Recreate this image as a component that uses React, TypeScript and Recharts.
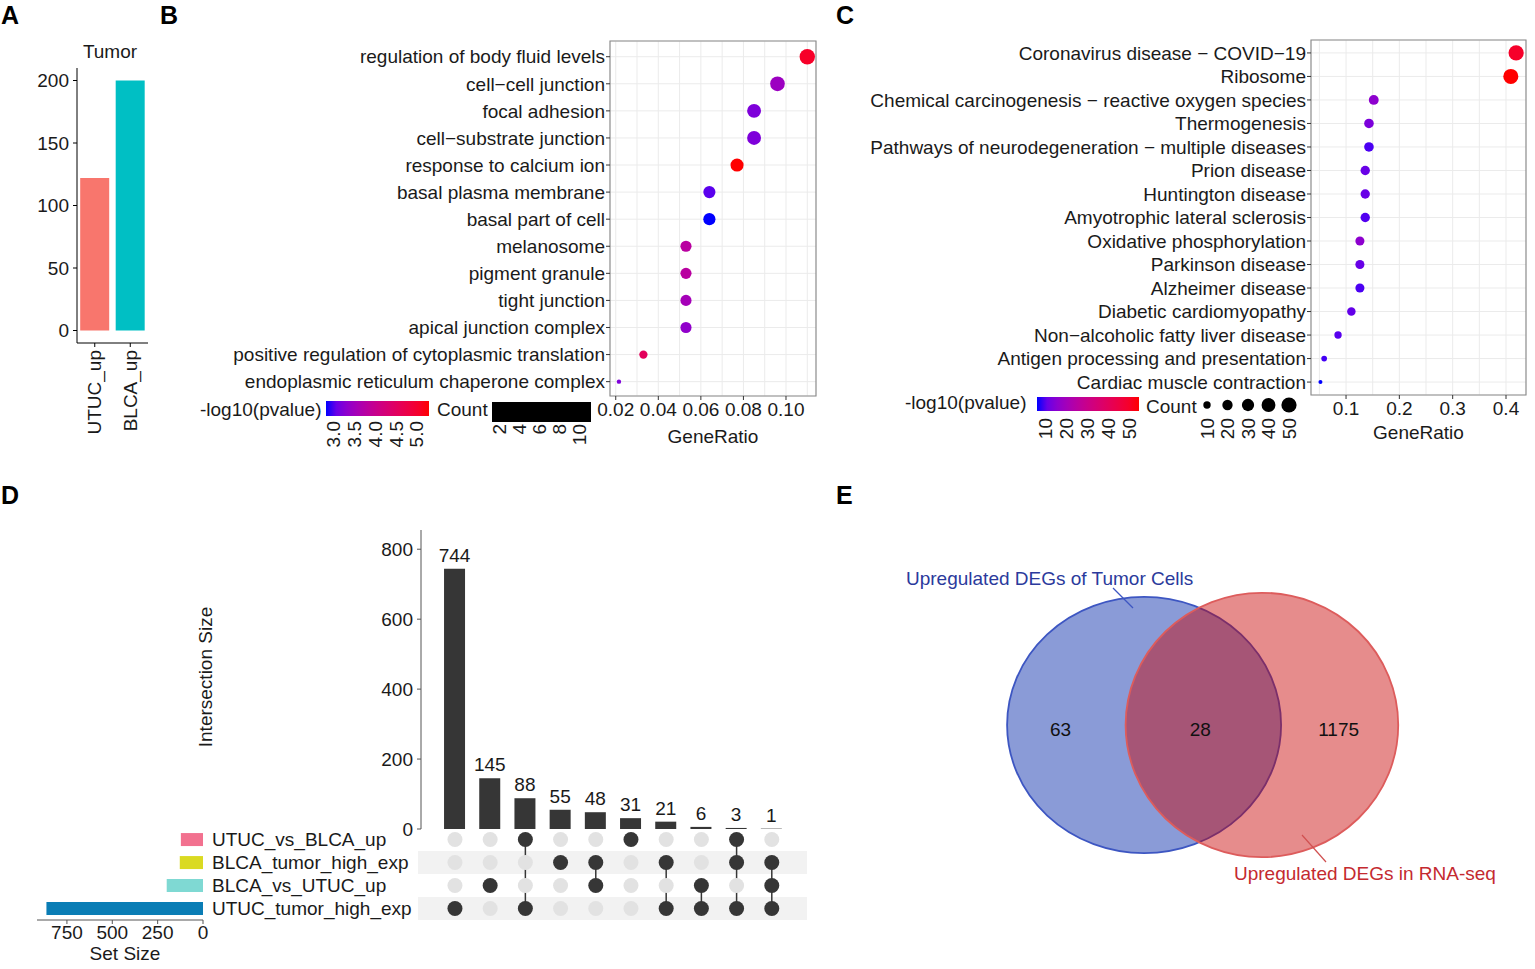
import React from 'react'
import {
  BarChart, Bar, XAxis, YAxis, CartesianGrid, ScatterChart, Scatter,
  Cell, LabelList, ReferenceArea, ReferenceLine,
} from 'recharts'

const FONT = '"Liberation Sans", Arial, sans-serif'
const TXT = '#1a1a1a'

// ---- A: tumor DEG counts
const tumorGroups = ['UTUC_up', 'BLCA_up']
const tumorCounts = [122, 200]
const tumorColors = ['#F8766D', '#00BFC4']

// ---- B: GO enrichment
const goTerms = [
  'regulation of body fluid levels',
  'cell\u2212cell junction',
  'focal adhesion',
  'cell\u2212substrate junction',
  'response to calcium ion',
  'basal plasma membrane',
  'basal part of cell',
  'melanosome',
  'pigment granule',
  'tight junction',
  'apical junction complex',
  'positive regulation of cytoplasmic translation',
  'endoplasmic reticulum chaperone complex',
]
const goRatio = [0.110, 0.096, 0.085, 0.085, 0.077, 0.064, 0.064, 0.053, 0.053, 0.053, 0.053, 0.033, 0.0215]
const goCount = [10, 9, 8, 8, 7, 6, 6, 5, 5, 5, 5, 3, 2]
const goLogP = [5.05, 3.45, 3.2, 3.2, 5.29, 3.0, 2.82, 3.8, 3.8, 3.55, 3.35, 4.55, 3.2]
const goPTicks = [3.0, 3.5, 4.0, 4.5, 5.0]
const goCountTicks = [2, 4, 6, 8, 10]

// ---- C: KEGG enrichment
const keggTerms = [
  'Coronavirus disease \u2212 COVID\u221219',
  'Ribosome',
  'Chemical carcinogenesis \u2212 reactive oxygen species',
  'Thermogenesis',
  'Pathways of neurodegeneration \u2212 multiple diseases',
  'Prion disease',
  'Huntington disease',
  'Amyotrophic lateral sclerosis',
  'Oxidative phosphorylation',
  'Parkinson disease',
  'Alzheimer disease',
  'Diabetic cardiomyopathy',
  'Non\u2212alcoholic fatty liver disease',
  'Antigen processing and presentation',
  'Cardiac muscle contraction',
]
const keggRatio = [0.419, 0.409, 0.152, 0.143, 0.143, 0.136, 0.136, 0.136, 0.126, 0.126, 0.126, 0.110, 0.085, 0.059, 0.052]
const keggCount = [50, 49, 18, 17, 17, 16, 16, 16, 15, 15, 15, 13, 10, 7, 6]
const keggLogP = [49.6, 54.4, 15.8, 13.3, 8.5, 10.9, 10.9, 9, 15.8, 10.9, 8.5, 10.4, 9.5, 8, 6.1]
const keggPTicks = [10, 20, 30, 40, 50]
const keggCountTicks = [10, 20, 30, 40, 50]

// ---- D: upset
const setNames = ['UTUC_vs_BLCA_up', 'BLCA_tumor_high_exp', 'BLCA_vs_UTUC_up', 'UTUC_tumor_high_exp']
const setSizes = [122, 128, 200, 863]
const setColors = ['#F2718F', '#DADA22', '#7FD9D3', '#0A7DB5']
const interSizes = [744, 145, 88, 55, 48, 31, 21, 6, 3, 1]
const interMembers = [[3], [2], [0, 3], [1], [1, 2], [0], [1, 3], [2, 3], [0, 1, 3], [1, 2, 3]]

// ---- E: venn
const vennLabels = ['Upregulated DEGs of Tumor Cells', 'Upregulated DEGs in RNA-seq']
const vennCounts = [63, 28, 1175]

// colour scale: ggplot-like blue -> red gradient in Lab space
const lin = (c: number) => { c /= 255; return c <= 0.04045 ? c / 12.92 : Math.pow((c + 0.055) / 1.055, 2.4) }
const gam = (c: number) => {
  const v = c <= 0.0031308 ? 12.92 * c : 1.055 * Math.pow(Math.max(c, 0), 1 / 2.4) - 0.055
  return Math.round(Math.max(0, Math.min(1, v)) * 255)
}
const fLab = (t: number) => (t > 0.008856 ? Math.cbrt(t) : 7.787 * t + 16 / 116)
const fInv = (t: number) => (t ** 3 > 0.008856 ? t ** 3 : (t - 16 / 116) / 7.787)
function rgbToLab(r: number, g: number, b: number) {
  const R = lin(r), G = lin(g), B = lin(b)
  const X = (0.4124 * R + 0.3576 * G + 0.1805 * B) / 0.95047
  const Y = 0.2126 * R + 0.7152 * G + 0.0722 * B
  const Z = (0.0193 * R + 0.1192 * G + 0.9505 * B) / 1.08883
  const fx = fLab(X), fy = fLab(Y), fz = fLab(Z)
  return [116 * fy - 16, 500 * (fx - fy), 200 * (fy - fz)]
}
function labToHex(L: number, a: number, b: number) {
  const fy = (L + 16) / 116, fx = fy + a / 500, fz = fy - b / 200
  const X = fInv(fx) * 0.95047, Y = fInv(fy), Z = fInv(fz) * 1.08883
  const R = 3.2406 * X - 1.5372 * Y - 0.4986 * Z
  const G = -0.9689 * X + 1.8758 * Y + 0.0415 * Z
  const B = 0.0557 * X - 0.204 * Y + 1.057 * Z
  return '#' + [R, G, B].map((v) => gam(v).toString(16).padStart(2, '0')).join('')
}
const LOW = rgbToLab(0, 0, 255)
const HIGH = rgbToLab(255, 0, 0)
function pColor(v: number, lo: number, hi: number) {
  const t = Math.max(0, Math.min(1, (v - lo) / (hi - lo)))
  return labToHex(LOW[0] + (HIGH[0] - LOW[0]) * t, LOW[1] + (HIGH[1] - LOW[1]) * t, LOW[2] + (HIGH[2] - LOW[2]) * t)
}

// ggplot scale_size: radius grows with sqrt of the rescaled value
const sizeRadius = (c: number, dom: number[], rr: number[]) =>
  rr[0] + (rr[1] - rr[0]) * Math.sqrt(Math.max(0, Math.min(1, (c - dom[0]) / (dom[1] - dom[0]))))

const RotTick = (props: any) => {
  const { x, y, payload } = props
  return (
    <text x={x} y={y + 1} transform={`rotate(-90 ${x} ${y + 1})`} textAnchor="end" dominantBaseline="central" fontSize={19} fill={TXT}>
      {payload.value}
    </text>
  )
}

type DotProps = {
  terms: string[]; ratio: number[]; count: number[]; logp: number[]
  pRange: [number, number]; countDomain: number[]; radius: number[]
  xDomain: [number, number]; xTicks: number[]; minor: number[]; decimals: number
  yPad: [number, number]; labelOffset: number
  width: number; height: number; top: number; yWidth: number; right: number
}

function DotPlot(p: DotProps) {
  const n = p.terms.length
  const data = p.terms.map((t, i) => ({ row: i + 1, term: t, ratio: p.ratio[i], count: p.count[i], logp: p.logp[i] }))
  const y0 = 1 - p.yPad[0]
  const y1 = n + p.yPad[1]
  return (
    <ScatterChart width={p.width} height={p.height} margin={{ top: p.top, right: p.right, bottom: 0, left: 0 }}>
      <CartesianGrid stroke="#ebebeb" verticalValues={[...p.xTicks, ...p.minor]} />
      <XAxis
        type="number" dataKey="ratio" domain={p.xDomain} ticks={p.xTicks} allowDataOverflow interval={0}
        height={55} axisLine={false} tickLine={{ stroke: '#333' }} tickSize={4} tickMargin={3}
        tick={{ fontSize: 19, fill: TXT }} tickFormatter={(v: number) => v.toFixed(p.decimals)}
        label={{ value: 'GeneRatio', position: 'insideBottom', offset: p.labelOffset, fontSize: 19, fill: TXT }}
      />
      <YAxis
        type="number" dataKey="row" domain={[y0, y1]} ticks={data.map((d) => d.row)} reversed allowDataOverflow
        interval={0} width={p.yWidth} axisLine={false} tickLine={{ stroke: '#333' }} tickSize={4} tickMargin={1}
        tick={{ fontSize: 19, fill: TXT }} tickFormatter={(v: number) => p.terms[v - 1]}
      />
      <ReferenceArea x1={p.xDomain[0]} x2={p.xDomain[1]} y1={y0} y2={y1} fill="none" fillOpacity={0} stroke="#8c8c8c" strokeWidth={1.2} />
      <Scatter
        data={data} isAnimationActive={false}
        shape={(pp: any) => (
          <circle cx={pp.cx} cy={pp.cy} r={sizeRadius(pp.payload.count, p.countDomain, p.radius)} fill={pColor(pp.payload.logp, p.pRange[0], p.pRange[1])} />
        )}
      />
    </ScatterChart>
  )
}

function ColorBar({ id, x, y, w, h, range, ticks, labelTop, digits }: any) {
  const stops = [0, 0.1, 0.2, 0.3, 0.4, 0.5, 0.6, 0.7, 0.8, 0.9, 1]
  return (
    <g>
      <defs>
        <linearGradient id={id} x1="0" x2="1" y1="0" y2="0">
          {stops.map((s) => (
            <stop key={s} offset={s} stopColor={pColor(range[0] + s * (range[1] - range[0]), range[0], range[1])} />
          ))}
        </linearGradient>
      </defs>
      <rect x={x} y={y} width={w} height={h} fill={`url(#${id})`} />
      {ticks.map((t: number) => {
        const tx = x + ((t - range[0]) / (range[1] - range[0])) * w
        return (
          <text key={t} x={tx} y={labelTop} transform={`rotate(-90 ${tx} ${labelTop})`} textAnchor="end" dominantBaseline="central" fontSize={19} fill={TXT}>
            {t.toFixed(digits)}
          </text>
        )
      })}
    </g>
  )
}

const VENN_PX = 137
const vennShapes = [
  { x: -0.43, y: 0, rx: 1.0, ry: 0.935, fill: '#1537af', op: 0.5, stroke: '#3d56c2' },
  { x: 0.43, y: 0, rx: 0.995, ry: 0.965, fill: '#c80000', op: 0.45, stroke: '#dd5c5c' },
]
const vennTextPos = [-1.04, -0.02, 0.99]

const EllipseShape = (props: any) => {
  const { cx, cy, payload } = props
  return (
    <ellipse cx={cx} cy={cy} rx={payload.rx * VENN_PX} ry={payload.ry * VENN_PX} fill={payload.fill} fillOpacity={payload.op} stroke={payload.stroke} strokeWidth={1.8} />
  )
}
const CountText = (props: any) => {
  const { cx, cy, payload } = props
  return (
    <text x={cx} y={cy} textAnchor="middle" dominantBaseline="central" fontSize={19} fill="#111">
      {payload.value}
    </text>
  )
}

export default function App() {
  const aData = tumorGroups.map((g, i) => ({ group: g, count: tumorCounts[i] }))
  const setData = setNames.map((s, i) => ({ name: s, size: setSizes[i] }))
  const interData = interSizes.map((v, i) => ({ id: String(i), size: v }))
  const matrix = interMembers.flatMap((m, i) => setNames.map((_, r) => ({ x: i, y: r, on: m.includes(r) })))
  const vennCountData = vennCounts.map((v, i) => ({ x: vennTextPos[i], y: 0.036, value: v }))

  const bP: [number, number] = [2.82, 5.29]
  const cP: [number, number] = [6.1, 54.4]
  const cCountDom = [6, 50]
  const cRadius = [2, 7.6]

  return (
    <div style={{ position: 'absolute', left: 0, top: 0, width: 1535, height: 969, background: '#fff', fontFamily: FONT }}>
      {/* A */}
      <div style={{ position: 'absolute', left: 0, top: 0 }}>
        <BarChart width={160} height={445} data={aData} margin={{ top: 68, right: 12, bottom: 0, left: 0 }} barCategoryGap="9%">
          <XAxis dataKey="group" height={102} interval={0} tickSize={4} tickMargin={2} axisLine={{ stroke: '#000' }} tickLine={{ stroke: '#000' }} tick={<RotTick />} />
          <YAxis type="number" domain={[-10, 210]} ticks={[0, 50, 100, 150, 200]} width={77} tickSize={4} tickMargin={4} interval={0}
            axisLine={{ stroke: '#000' }} tickLine={{ stroke: '#000' }} tick={{ fontSize: 19, fill: TXT }} />
          <Bar dataKey="count" isAnimationActive={false}>
            {aData.map((d, i) => (
              <Cell key={d.group} fill={tumorColors[i]} />
            ))}
          </Bar>
        </BarChart>
      </div>

      {/* B */}
      <div style={{ position: 'absolute', left: 200, top: 0 }}>
        <DotPlot terms={goTerms} ratio={goRatio} count={goCount} logp={goLogP} pRange={bP} countDomain={[2, 10]} radius={[2.2, 7.7]}
          xDomain={[0.0173, 0.1141]} xTicks={[0.02, 0.04, 0.06, 0.08, 0.1]} minor={[0.03, 0.05, 0.07, 0.09, 0.11]} decimals={2}
          yPad={[0.58, 0.53]} labelOffset={8}
          width={620} height={451} top={41} yWidth={410} right={4} />
      </div>

      {/* C */}
      <div style={{ position: 'absolute', left: 860, top: 0 }}>
        <DotPlot terms={keggTerms} ratio={keggRatio} count={keggCount} logp={keggLogP} pRange={cP} countDomain={cCountDom} radius={cRadius}
          xDomain={[0.0343, 0.4375]} xTicks={[0.1, 0.2, 0.3, 0.4]} minor={[0.05, 0.15, 0.25, 0.35]} decimals={1}
          yPad={[0.55, 0.55]} labelOffset={11}
          width={675} height={450} top={40} yWidth={451} right={9} />
      </div>

      {/* D: intersection sizes */}
      <div style={{ position: 'absolute', left: 170, top: 500 }}>
        <BarChart width={637} height={345} data={interData} margin={{ top: 30, right: 0, bottom: 16, left: 0 }} barCategoryGap="20%">
          <XAxis dataKey="id" hide padding={{ left: 16, right: 18 }} />
          <YAxis type="number" domain={[0, 855]} ticks={[0, 200, 400, 600, 800]} width={251} interval={0} tickSize={4} tickMargin={4}
            axisLine={{ stroke: '#555' }} tickLine={{ stroke: '#555' }} tick={{ fontSize: 19, fill: TXT }} allowDataOverflow />
          <Bar dataKey="size" fill="#363636" isAnimationActive={false}>
            <LabelList dataKey="size" position="top" offset={7} fontSize={19} fill={TXT} />
          </Bar>
        </BarChart>
      </div>

      {/* D: matrix */}
      <div style={{ position: 'absolute', left: 418, top: 828 }}>
        <ScatterChart width={389} height={92} margin={{ top: 0, right: 0, bottom: 0, left: 0 }}>
          <XAxis type="number" dataKey="x" domain={[-1.05, 10]} hide allowDataOverflow />
          <YAxis type="number" dataKey="y" domain={[-0.5, 3.5]} hide reversed allowDataOverflow />
          <ReferenceArea y1={0.5} y2={1.5} fill="#f2f2f2" fillOpacity={1} stroke="none" />
          <ReferenceArea y1={2.5} y2={3.5} fill="#f2f2f2" fillOpacity={1} stroke="none" />
          <Scatter data={matrix.filter((d) => !d.on)} isAnimationActive={false}
            shape={(pp: any) => <circle cx={pp.cx} cy={pp.cy} r={7.5} fill="#e2e2e2" />} />
          {interMembers.map((m, col) =>
            m.length > 1 ? (
              <ReferenceLine key={col} segment={[{ x: col, y: Math.min(...m) }, { x: col, y: Math.max(...m) }]} stroke="#363636" strokeWidth={1.5} />
            ) : null,
          )}
          <Scatter data={matrix.filter((d) => d.on)} isAnimationActive={false}
            shape={(pp: any) => <circle cx={pp.cx} cy={pp.cy} r={7.5} fill="#363636" />} />
        </ScatterChart>
      </div>

      {/* D: set sizes */}
      <div style={{ position: 'absolute', left: 0, top: 828 }}>
        <BarChart layout="vertical" width={440} height={128} data={setData} margin={{ top: 0, right: 0, bottom: 0, left: 37 }} barCategoryGap="22%">
          <XAxis type="number" domain={[0, 915]} reversed ticks={[0, 250, 500, 750]} interval={0} height={36} tickSize={4} tickMargin={2}
            axisLine={{ stroke: '#555' }} tickLine={{ stroke: '#555' }} tick={{ fontSize: 19, fill: TXT }} allowDataOverflow />
          <YAxis type="category" dataKey="name" orientation="right" width={237} tickSize={0} tickMargin={9} axisLine={false} interval={0}
            tick={{ fontSize: 19, fill: TXT, textAnchor: 'start' }} />
          <Bar dataKey="size" isAnimationActive={false}>
            {setData.map((d, i) => (
              <Cell key={d.name} fill={setColors[i]} />
            ))}
          </Bar>
        </BarChart>
      </div>

      {/* E: venn */}
      <div style={{ position: 'absolute', left: 880, top: 540 }}>
        <ScatterChart width={640} height={380} margin={{ top: 0, right: 0, bottom: 0, left: 0 }}>
          <XAxis type="number" dataKey="x" domain={[-323 / VENN_PX, 317 / VENN_PX]} hide allowDataOverflow />
          <YAxis type="number" dataKey="y" domain={[-185 / VENN_PX, 195 / VENN_PX]} hide reversed allowDataOverflow />
          <Scatter data={vennShapes} shape={EllipseShape} isAnimationActive={false} />
          <Scatter data={vennCountData} shape={CountText} isAnimationActive={false} />
        </ScatterChart>
      </div>

      {/* annotations and legends */}
      <svg width={1535} height={969} style={{ position: 'absolute', left: 0, top: 0, pointerEvents: 'none', fontFamily: FONT }}>
        <g fontSize={25} fontWeight="bold" fill="#000">
          <text x={1} y={24}>A</text>
          <text x={160} y={24}>B</text>
          <text x={836} y={24}>C</text>
          <text x={1} y={504}>D</text>
          <text x={836} y={504}>E</text>
        </g>
        <text x={110} y={51} textAnchor="middle" dominantBaseline="central" fontSize={19} fill={TXT}>Tumor</text>

        {/* B legend */}
        <text x={200} y={409} dominantBaseline="central" fontSize={19} fill={TXT}>-log10(pvalue)</text>
        <ColorBar id="gradB" x={326} y={401} w={103} h={15} range={bP} ticks={goPTicks} labelTop={421} digits={1} />
        <text x={437} y={409} dominantBaseline="central" fontSize={19} fill={TXT}>Count</text>
        <rect x={492} y={402} width={99} height={20} fill="#000" />
        {goCountTicks.map((c) => {
          const tx = 492 + ((c - 1.3) / 9.8) * 99
          return (
            <text key={c} x={tx} y={424} transform={`rotate(-90 ${tx} 424)`} textAnchor="end" dominantBaseline="central" fontSize={19} fill={TXT}>{c}</text>
          )
        })}

        {/* C legend */}
        <text x={905} y={402} dominantBaseline="central" fontSize={19} fill={TXT}>-log10(pvalue)</text>
        <ColorBar id="gradC" x={1037} y={397} w={102} h={14} range={cP} ticks={keggPTicks} labelTop={418} digits={0} />
        <text x={1146} y={406} dominantBaseline="central" fontSize={19} fill={TXT}>Count</text>
        {keggCountTicks.map((c, i) => {
          const tx = 1207 + i * 20.5
          return (
            <g key={c}>
              <circle cx={tx} cy={405} r={sizeRadius(c, cCountDom, cRadius)} fill="#000" />
              <text x={tx} y={418} transform={`rotate(-90 ${tx} 418)`} textAnchor="end" dominantBaseline="central" fontSize={19} fill={TXT}>{c}</text>
            </g>
          )
        })}

        {/* D labels */}
        <text x={205} y={677} transform="rotate(-90 205 677)" textAnchor="middle" dominantBaseline="central" fontSize={19} fill={TXT}>Intersection Size</text>
        <text x={125} y={953} textAnchor="middle" dominantBaseline="central" fontSize={19} fill={TXT}>Set Size</text>

        {/* E labels */}
        <text x={906} y={578} dominantBaseline="central" fontSize={19} fill="#2b3a9c">{vennLabels[0]}</text>
        <line x1={1113} y1={588} x2={1133} y2={608} stroke="#3d56c2" strokeWidth={1.2} />
        <text x={1234} y={873} dominantBaseline="central" fontSize={19} fill="#c42a30">{vennLabels[1]}</text>
        <line x1={1302} y1={835} x2={1326} y2={862} stroke="#d05050" strokeWidth={1.2} />
      </svg>
    </div>
  )
}
